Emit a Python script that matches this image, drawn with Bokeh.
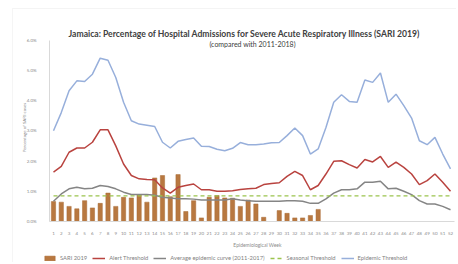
import math
from bokeh.plotting import figure
from bokeh.models import (ColumnDataSource, FixedTicker, PrintfTickFormatter, Label,
                          Legend, LegendItem, Range1d, BoxAnnotation)
from bokeh.embed import file_html
from bokeh.resources import INLINE

weeks = list(range(1, 53))
week_labels = [str(w) for w in weeks]

sari_weeks = list(range(1, 36))
sari_2019 = [0.66, 0.64, 0.50, 0.42, 0.69, 0.45, 0.60, 0.94, 0.50, 0.80,
             0.78, 0.89, 0.64, 1.44, 1.52, 0.82, 1.55, 0.33, 0.69, 0.12,
             0.80, 0.86, 0.78, 0.77, 0.50, 0.71, 0.58, 0.14, 0.00, 0.36,
             0.27, 0.12, 0.12, 0.20, 0.40]

alert_threshold = [1.63, 1.82, 2.29, 2.43, 2.43, 2.62, 3.03, 3.03, 2.50, 1.90,
                   1.52, 1.41, 1.39, 1.38, 1.11, 0.94, 1.13, 1.19, 1.24, 1.05,
                   1.05, 1.00, 1.00, 1.02, 1.06, 1.08, 1.10, 1.22, 1.26, 1.28,
                   1.49, 1.66, 1.52, 1.05, 1.19, 1.57, 1.99, 2.01, 1.88, 1.77,
                   2.05, 1.97, 2.15, 1.79, 1.96, 1.79, 1.57, 1.22, 1.35, 1.57,
                   1.30, 1.00]

average_curve = [0.67, 0.91, 1.08, 1.13, 1.08, 1.10, 1.19, 1.16, 1.08, 0.97,
                 0.89, 0.89, 0.89, 0.87, 0.80, 0.78, 0.75, 0.75, 0.74, 0.71,
                 0.71, 0.71, 0.71, 0.75, 0.71, 0.69, 0.67, 0.67, 0.67, 0.67,
                 0.69, 0.69, 0.67, 0.60, 0.60, 0.75, 0.94, 1.05, 1.05, 1.08,
                 1.30, 1.30, 1.33, 1.08, 1.10, 1.00, 0.89, 0.69, 0.58, 0.58,
                 0.50, 0.39]

seasonal_threshold = [0.85, 0.85, 0.85, 0.85, 0.85, 0.85, 0.85, 0.85, 0.85, 0.85,
                      0.85, 0.85, 0.85, 0.85, 0.85, 0.85, 0.85, 0.85, 0.85, 0.85,
                      0.85, 0.85, 0.85, 0.85, 0.85, 0.85, 0.85, 0.85, 0.85, 0.85,
                      0.85, 0.85, 0.85, 0.85, 0.85, 0.85, 0.85, 0.85, 0.85, 0.85,
                      0.85, 0.85, 0.85, 0.85, 0.85, 0.85, 0.85, 0.85, 0.85, 0.85,
                      0.85, 0.85]

epidemic_threshold = [3.00, 3.60, 4.32, 4.65, 4.63, 4.87, 5.40, 5.33, 4.76, 3.94,
                      3.33, 3.22, 3.18, 3.14, 2.62, 2.43, 2.65, 2.71, 2.76, 2.49,
                      2.48, 2.39, 2.34, 2.42, 2.61, 2.54, 2.54, 2.56, 2.60, 2.61,
                      2.84, 3.09, 2.84, 2.23, 2.40, 3.11, 3.94, 4.19, 3.97, 3.94,
                      4.68, 4.60, 4.91, 3.94, 4.21, 3.83, 3.42, 2.67, 2.54, 2.78,
                      2.23, 1.74]

y_ticks = [0, 1, 2, 3, 4, 5, 6]

title_text = "Jamaica: Percentage of Hospital Admissions for Severe Acute Respiratory Illness (SARI 2019)"
subtitle_text = "(compared with 2011-2018)"
y_title = "Percentage of SARI cases"
x_title = "Epidemiological Week"

FONT = "Lato"
TXT = "#404040"
LIGHT = "#8C8C8C"

# whole canvas is the frame; axes are pinned inside it
p = figure(width=456, height=262, output_backend="svg", toolbar_location=None,
           x_range=Range1d(-5.808, 52.77), y_range=Range1d(-1.355, 7.306),
           min_border=0)
p.outline_line_color = None
p.background_fill_color = "white"
p.border_fill_color = "white"
p.xgrid.visible = False
p.ygrid.visible = False

# outer chart-area border (left and top edges visible)
p.add_layout(BoxAnnotation(left=-4.27, top=7.04, right=60, bottom=-3,
                           fill_alpha=0, line_color="#D9D9D9", line_width=1))

bars_src = ColumnDataSource(dict(week=sari_weeks, value=sari_2019))
lines_src = ColumnDataSource(dict(week=weeks, alert=alert_threshold, avg=average_curve,
                                  seasonal=seasonal_threshold, epidemic=epidemic_threshold))

r_bar = p.vbar(x="week", top="value", width=0.55, source=bars_src,
               fill_color="#B87840", line_color="#A86A35", line_width=0.5)
r_alert = p.line("week", "alert", source=lines_src, line_color="#B9433F", line_width=1.5)
r_avg = p.line("week", "avg", source=lines_src, line_color="#858585", line_width=1.5)
r_seas = p.line("week", "seasonal", source=lines_src, line_color="#9BC44D",
                line_width=1.3, line_dash="4 3")
r_epi = p.line("week", "epidemic", source=lines_src, line_color="#97AFDB", line_width=1.5)

# y axis
p.yaxis.fixed_location = 0.5
p.yaxis.ticker = FixedTicker(ticks=y_ticks)
p.yaxis.formatter = PrintfTickFormatter(format="%.1f%%")
p.yaxis.bounds = (0, 6)
p.yaxis.major_tick_line_color = None
p.yaxis.minor_tick_line_color = None
p.yaxis.axis_line_color = "#D9D9D9"
p.yaxis.major_label_text_font = FONT
p.yaxis.major_label_text_font_size = "4.5px"
p.yaxis.major_label_text_color = LIGHT
p.yaxis.major_label_standoff = 7

# x axis
p.xaxis.fixed_location = 0
p.xaxis.ticker = FixedTicker(ticks=weeks)
p.xaxis.major_label_overrides = {w: lab for w, lab in zip(weeks, week_labels)}
p.xaxis.bounds = (0.5, 52.5)
p.xaxis.major_tick_line_color = None
p.xaxis.minor_tick_line_color = None
p.xaxis.axis_line_color = "#D9D9D9"
p.xaxis.major_label_text_font = FONT
p.xaxis.major_label_text_font_size = "4.5px"
p.xaxis.major_label_text_color = LIGHT
p.xaxis.major_label_standoff = 4

# titles
p.add_layout(Label(x=25.54, y=6.198, text=title_text, text_font=FONT, text_font_size="8.6px",
                   text_font_style="bold", text_color=TXT, text_align="center",
                   text_baseline="middle"))
p.add_layout(Label(x=26.57, y=5.884, text=subtitle_text, text_font=FONT, text_font_size="7px",
                   text_color=TXT, text_align="center", text_baseline="middle"))
p.add_layout(Label(x=-2.726, y=3.107, text=y_title, text_font=FONT, text_font_size="4.5px",
                   text_color=LIGHT, text_align="center", text_baseline="middle",
                   angle=math.pi / 2))
p.add_layout(Label(x=27.2, y=-0.76, text=x_title, text_font=FONT, text_font_size="5px",
                   text_color=LIGHT, text_align="center", text_baseline="middle"))

legend = Legend(items=[
    LegendItem(label="SARI 2019", renderers=[r_bar]),
    LegendItem(label="Alert Threshold", renderers=[r_alert]),
    LegendItem(label="Average epidemic curve (2011-2017)", renderers=[r_avg]),
    LegendItem(label="Seasonal Threshold", renderers=[r_seas]),
    LegendItem(label="Epidemic Threshold", renderers=[r_epi]),
], orientation="horizontal", location=(43, 1), padding=0, margin=0, spacing=5,
    glyph_width=13, glyph_height=6, label_standoff=4,
    label_text_font=FONT, label_text_font_size="5.8px", label_text_color="#7F7F7F",
    label_height=6, background_fill_alpha=0, border_line_color=None)
p.add_layout(legend, "center")

open("out.html", "w").write(file_html(p, INLINE))
